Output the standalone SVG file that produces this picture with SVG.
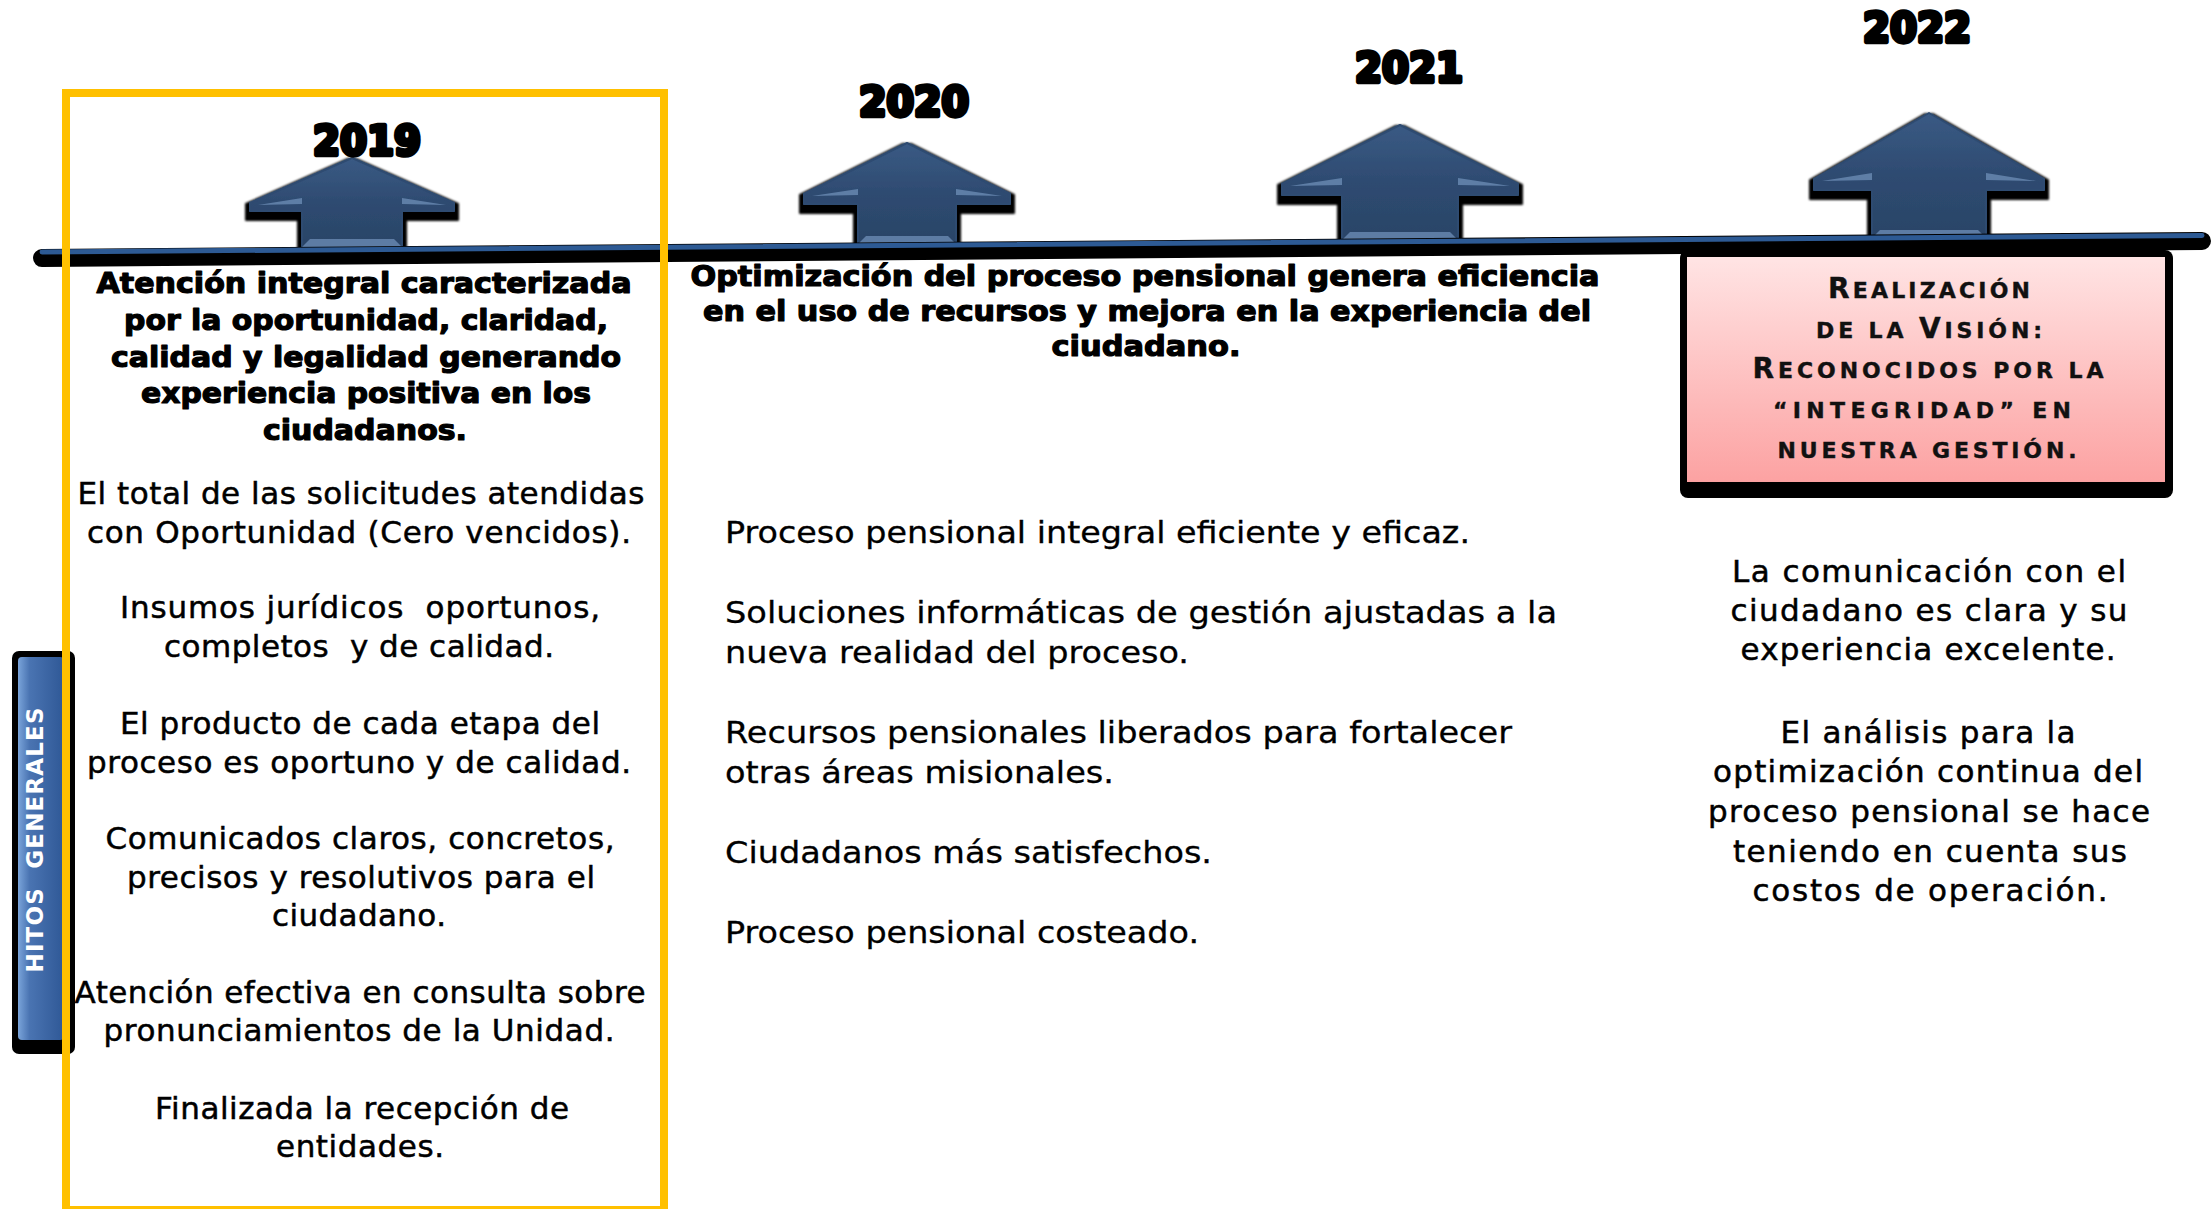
<svg xmlns="http://www.w3.org/2000/svg" width="2212" height="1209" viewBox="0 0 2212 1209">
<defs>
<style>
.yr{font-family:"DejaVu Sans",Verdana,sans-serif;font-weight:bold;font-size:41px;fill:#000;stroke:#000;stroke-width:4.5;stroke-linejoin:round;text-anchor:middle}
.hd{font-family:"DejaVu Sans",Verdana,sans-serif;font-weight:bold;font-size:28px;fill:#000;stroke:#000;stroke-width:1.2;stroke-linejoin:round;text-anchor:middle}
.bd{font-family:"DejaVu Sans",Verdana,sans-serif;font-size:31px;fill:#000;stroke:#000;stroke-width:0.5;text-anchor:middle}
.it{font-family:"DejaVu Sans",Tahoma,sans-serif;font-size:31px;fill:#000;stroke:#000;stroke-width:0.3}
.sc{font-family:"DejaVu Sans",Verdana,sans-serif;font-weight:bold;font-size:22px;fill:#111;stroke:#111;stroke-width:0.4;text-anchor:middle}
.big{font-size:28px}
.hg{font-family:"DejaVu Sans",Verdana,sans-serif;font-weight:bold;font-size:23px;fill:#fff;text-anchor:middle}
.arrow{fill:url(#arrowGrad);filter:url(#shadow);stroke:#2E4B71;stroke-width:2;stroke-linejoin:round}
.bevel{fill:#6F8FB8;opacity:0.75}
</style>
<linearGradient id="arrowGrad" x1="0" y1="0" x2="0" y2="1">
<stop offset="0" stop-color="#3A5A84"/>
<stop offset="0.5" stop-color="#2E4B71"/>
<stop offset="1" stop-color="#2A4467"/>
</linearGradient>
<linearGradient id="barGrad" x1="0" y1="0" x2="1" y2="0">
<stop offset="0" stop-color="#7AA4DA"/>
<stop offset="0.25" stop-color="#4A74B2"/>
<stop offset="1" stop-color="#2F5896"/>
</linearGradient>
<linearGradient id="pinkGrad" x1="0" y1="0" x2="0" y2="1">
<stop offset="0" stop-color="#FFE4E4"/>
<stop offset="1" stop-color="#FCA2A2"/>
</linearGradient>
<filter id="shadow" x="-20%" y="-20%" width="140%" height="150%">
<feMorphology in="SourceAlpha" operator="dilate" radius="3.5" result="d"/>
<feOffset in="d" dx="0" dy="5" result="o"/>
<feGaussianBlur in="o" stdDeviation="1" result="b"/>
<feFlood flood-color="#000"/>
<feComposite in2="b" operator="in" result="s"/>
<feMerge><feMergeNode in="s"/><feMergeNode in="SourceGraphic"/></feMerge>
</filter>
</defs>

<rect width="2212" height="1209" fill="#fff"/>

<!-- Hitos generales bar -->
<g id="hitos-bar">
<rect x="12" y="651" width="63" height="403" rx="7" fill="#000"/>
<rect x="18" y="657" width="46" height="383" rx="4" fill="url(#barGrad)"/>
<text class="hg" transform="translate(43,840) rotate(-90)" textLength="265" lengthAdjust="spacing" xml:space="preserve">HITOS  GENERALES</text>
</g>

<!-- Pink vision box -->
<g id="vision-box">
<rect x="1680" y="250" width="493" height="248" rx="8" fill="#000"/>
<rect x="1687" y="257" width="478" height="225" fill="url(#pinkGrad)"/>
<text class="sc" x="1929" y="298" textLength="202" lengthAdjust="spacing"><tspan class="big">R</tspan>EALIZACIÓN</text>
<text class="sc" x="1929" y="338" textLength="226" lengthAdjust="spacing">DE LA <tspan class="big">V</tspan>ISIÓN:</text>
<text class="sc" x="1928" y="378" textLength="351" lengthAdjust="spacing"><tspan class="big">R</tspan>ECONOCIDOS POR LA</text>
<text class="sc" x="1922" y="418" textLength="298" lengthAdjust="spacing">“INTEGRIDAD” EN</text>
<text class="sc" x="1927" y="458" textLength="299" lengthAdjust="spacing">NUESTRA GESTIÓN.</text>
</g>

<!-- Arrows -->
<g id="arrow-2019">
<polygon class="arrow" points="352,158 454,203 454,211 402,211 402,247 302,247 302,211 250,211 250,203"/>
<polygon class="bevel" points="302,247 402,247 394,239 310,239"/>
<polygon class="bevel" points="258,205 302,198 302,204"/>
<polygon class="bevel" points="446,205 402,198 402,204"/>
<text class="yr" x="367" y="155" textLength="108" lengthAdjust="spacingAndGlyphs">2019</text>
</g>
<g id="arrow-2020">
<polygon class="arrow" points="907,143 1010,194 1010,204 956,204 956,244 858,244 858,204 804,204 804,194"/>
<polygon class="bevel" points="858,244 956,244 948,236 866,236"/>
<polygon class="bevel" points="812,196 858,189 858,195"/>
<polygon class="bevel" points="1002,196 956,189 956,195"/>
<text class="yr" x="914" y="116" textLength="110" lengthAdjust="spacingAndGlyphs">2020</text>
</g>
<g id="arrow-2021">
<polygon class="arrow" points="1400,125 1518,184 1518,195 1458,195 1458,240 1342,240 1342,195 1282,195 1282,184"/>
<polygon class="bevel" points="1342,240 1458,240 1450,232 1350,232"/>
<polygon class="bevel" points="1290,186 1342,178 1342,185"/>
<polygon class="bevel" points="1510,186 1458,178 1458,185"/>
<text class="yr" x="1409" y="82" textLength="108" lengthAdjust="spacingAndGlyphs">2021</text>
</g>
<g id="arrow-2022">
<polygon class="arrow" points="1929,113 2044,179 2044,190 1986,190 1986,238 1872,238 1872,190 1814,190 1814,179"/>
<polygon class="bevel" points="1872,238 1986,238 1978,230 1880,230"/>
<polygon class="bevel" points="1822,181 1872,173 1872,180"/>
<polygon class="bevel" points="2036,181 1986,173 1986,180"/>
<text class="yr" x="1917" y="42" textLength="108" lengthAdjust="spacingAndGlyphs">2022</text>
</g>

<!-- Timeline connector -->
<g id="connectors">
<line x1="42" y1="258" x2="2202" y2="241" stroke="#000" stroke-width="18" stroke-linecap="round"/>
<line x1="42" y1="252" x2="2202" y2="235.5" stroke="#2D5A94" stroke-width="5" stroke-linecap="round"/>
</g>

<!-- 2019 column -->
<g id="col-2019">
<text class="hd" x="364" y="293" textLength="535" lengthAdjust="spacingAndGlyphs">Atención integral caracterizada</text>
<text class="hd" x="366" y="330" textLength="484" lengthAdjust="spacingAndGlyphs">por la oportunidad, claridad,</text>
<text class="hd" x="366" y="367" textLength="510" lengthAdjust="spacingAndGlyphs">calidad y legalidad generando</text>
<text class="hd" x="366" y="403" textLength="450" lengthAdjust="spacingAndGlyphs">experiencia positiva en los</text>
<text class="hd" x="365" y="440" textLength="204" lengthAdjust="spacingAndGlyphs">ciudadanos.</text>

<text class="bd" x="361" y="504" textLength="567" lengthAdjust="spacing">El total de las solicitudes atendidas</text>
<text class="bd" x="359" y="543" textLength="544" lengthAdjust="spacing">con Oportunidad (Cero vencidos).</text>
<text class="bd" x="360" y="618" textLength="480" lengthAdjust="spacing" xml:space="preserve">Insumos jurídicos  oportunos,</text>
<text class="bd" x="359" y="657" textLength="390" lengthAdjust="spacing" xml:space="preserve">completos  y de calidad.</text>
<text class="bd" x="360" y="734" textLength="480" lengthAdjust="spacing">El producto de cada etapa del</text>
<text class="bd" x="359" y="773" textLength="544" lengthAdjust="spacing">proceso es oportuno y de calidad.</text>
<text class="bd" x="360" y="849" textLength="509" lengthAdjust="spacing">Comunicados claros, concretos,</text>
<text class="bd" x="361" y="888" textLength="468" lengthAdjust="spacing">precisos y resolutivos para el</text>
<text class="bd" x="359" y="926" textLength="174" lengthAdjust="spacing">ciudadano.</text>
<text class="bd" x="360" y="1003" textLength="571" lengthAdjust="spacing">Atención efectiva en consulta sobre</text>
<text class="bd" x="359" y="1041" textLength="511" lengthAdjust="spacing">pronunciamientos de la Unidad.</text>
<text class="bd" x="362" y="1119" textLength="414" lengthAdjust="spacing">Finalizada la recepción de</text>
<text class="bd" x="360" y="1157" textLength="168" lengthAdjust="spacing">entidades.</text>
</g>

<!-- 2020 column -->
<g id="col-2020">
<text class="hd" x="1145" y="286" textLength="909" lengthAdjust="spacingAndGlyphs">Optimización del proceso pensional genera eficiencia</text>
<text class="hd" x="1147" y="321" textLength="888" lengthAdjust="spacingAndGlyphs">en el uso de recursos y mejora en la experiencia del</text>
<text class="hd" x="1146" y="356" textLength="189" lengthAdjust="spacingAndGlyphs">ciudadano.</text>

<text class="it" x="725" y="543" textLength="745" lengthAdjust="spacingAndGlyphs">Proceso pensional integral eficiente y eficaz.</text>
<text class="it" x="725" y="623" textLength="832" lengthAdjust="spacingAndGlyphs">Soluciones informáticas de gestión ajustadas a la</text>
<text class="it" x="725" y="663" textLength="464" lengthAdjust="spacingAndGlyphs">nueva realidad del proceso.</text>
<text class="it" x="725" y="743" textLength="787" lengthAdjust="spacingAndGlyphs">Recursos pensionales liberados para fortalecer</text>
<text class="it" x="725" y="783" textLength="389" lengthAdjust="spacingAndGlyphs">otras áreas misionales.</text>
<text class="it" x="725" y="863" textLength="487" lengthAdjust="spacingAndGlyphs">Ciudadanos más satisfechos.</text>
<text class="it" x="725" y="943" textLength="474" lengthAdjust="spacingAndGlyphs">Proceso pensional costeado.</text>
</g>

<!-- 2022 column -->
<g id="col-2022">
<text class="bd" x="1929" y="582" textLength="394" lengthAdjust="spacing">La comunicación con el</text>
<text class="bd" x="1929" y="621" textLength="397" lengthAdjust="spacing">ciudadano es clara y su</text>
<text class="bd" x="1928" y="660" textLength="375" lengthAdjust="spacing">experiencia excelente.</text>
<text class="bd" x="1928" y="743" textLength="295" lengthAdjust="spacing">El análisis para la</text>
<text class="bd" x="1928" y="782" textLength="430" lengthAdjust="spacing">optimización continua del</text>
<text class="bd" x="1929" y="822" textLength="442" lengthAdjust="spacing">proceso pensional se hace</text>
<text class="bd" x="1930" y="862" textLength="394" lengthAdjust="spacing">teniendo en cuenta sus</text>
<text class="bd" x="1930" y="901" textLength="355" lengthAdjust="spacing">costos de operación.</text>
</g>

<!-- Highlight frame for 2019 -->
<g id="frame-2019">
<rect x="66" y="93" width="598" height="1117" fill="none" stroke="#FFC000" stroke-width="8"/>
</g>
</svg>
